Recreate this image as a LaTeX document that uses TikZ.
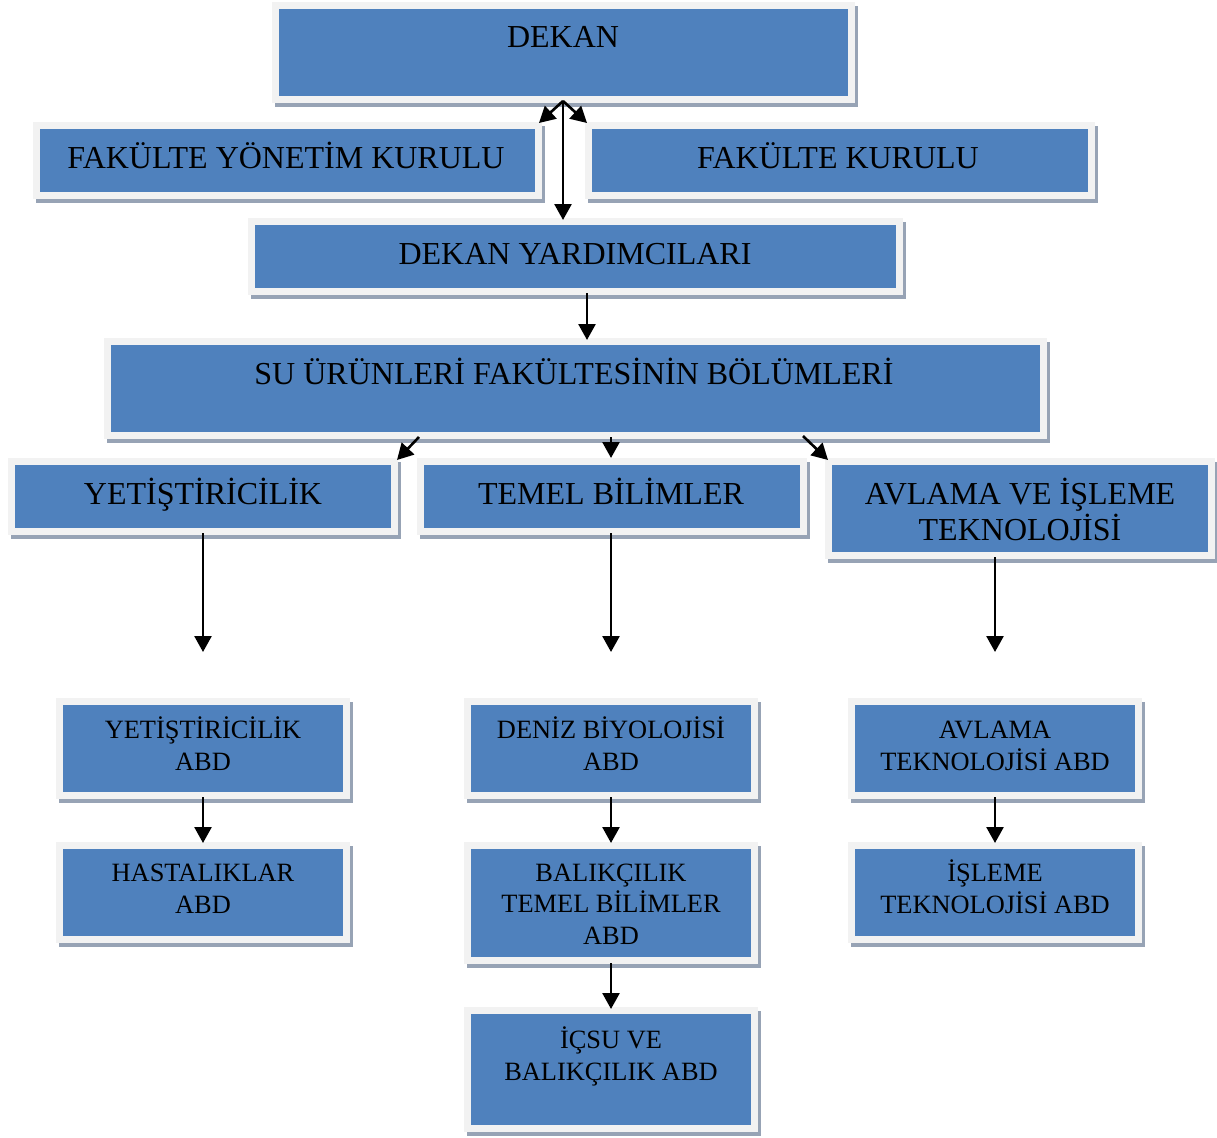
\documentclass[tikz,border=0pt]{standalone}
\usepackage{fontspec}
\setmainfont{Liberation Serif}
\usetikzlibrary{arrows.meta,calc}
\definecolor{boxblue}{HTML}{4F81BD}
\definecolor{framegray}{HTML}{F2F2F2}
\definecolor{shadowgray}{HTML}{97A3B5}
\tikzset{
  bluebox/.style={fill=boxblue, inner sep=0pt, outer sep=0pt},
  bigtxt/.style={font=\fontsize{32}{36}\selectfont, align=center, inner sep=0pt, anchor=base},
  smalltxt/.style={font=\fontsize{26.4}{31.5}\selectfont, align=center, inner sep=0pt, anchor=base},
  conn/.style={line width=2.6pt, -{Triangle[width=17pt,length=16pt]}},
}
\newcommand\orgbox[5]{%
  \fill[shadowgray] ({#2-4},{#3-3}) rectangle ({#4+10},{#5+11});
  \fill[framegray] ({#2-7},{#3-7}) rectangle ({#4+7},{#5+7});
  \node[bluebox, minimum width={(#4-#2)*1pt}, minimum height={(#5-#3)*1pt}] (#1) at ({(#2+#4)/2},{(#3+#5)/2}) {};
}
\begin{document}
\begin{tikzpicture}[x=1pt,y=-1pt]
\useasboundingbox[fill=white] (0,0) rectangle (1217,1137);
% boxes
\orgbox{dekan}{279}{9}{848}{96}
\orgbox{fyk}{40}{129}{535}{192}
\orgbox{fk}{592}{129}{1088}{192}
\orgbox{dy}{255}{225}{896}{288}
\orgbox{su}{111}{345}{1040}{432}
\orgbox{yet}{15}{465}{391}{528}
\orgbox{tb}{424}{465}{800}{528}
\orgbox{av}{832}{465}{1208}{552}
\orgbox{yabd}{63}{705}{343}{792}
\orgbox{hast}{63}{849}{343}{936}
\orgbox{deniz}{471}{705}{751}{792}
\orgbox{balik}{471}{849}{751}{957}
\orgbox{icsu}{471}{1014}{751}{1125}
\orgbox{avt}{855}{705}{1135}{792}
\orgbox{isl}{855}{849}{1135}{936}
% labels (anchor base = baseline of last line)
\node[bigtxt] (tdekan) at (563,48) {DEKAN};
\node[bigtxt] (tfyk) at (286,168) {FAKÜLTE YÖNETİM KURULU};
\node[bigtxt] (tfk) at (838,168) {FAKÜLTE KURULU};
\node[bigtxt] (tdy) at (575,264) {DEKAN YARDIMCILARI};
\node[bigtxt] (tsu) at (574,384) {SU ÜRÜNLERİ FAKÜLTESİNİN BÖLÜMLERİ};
\node[bigtxt] (tyet) at (203,504) {YETİŞTİRİCİLİK};
\node[bigtxt] (ttb) at (611,504) {TEMEL BİLİMLER};
\node[bigtxt] (tav) at (1020,540) {AVLAMA VE İŞLEME\\TEKNOLOJİSİ};
\node[smalltxt] (tyabd) at (203,770) {YETİŞTİRİCİLİK\\ABD};
\node[smalltxt] (thast) at (203,913) {HASTALIKLAR\\ABD};
\node[smalltxt] (tdeniz) at (611,770) {DENİZ BİYOLOJİSİ\\ABD};
\node[smalltxt] (tbalik) at (611,944) {BALIKÇILIK\\TEMEL BİLİMLER\\ABD};
\node[smalltxt] (ticsu) at (611,1080) {İÇSU VE\\BALIKÇILIK ABD};
\node[smalltxt] (tavt) at (995,770) {AVLAMA\\TEKNOLOJİSİ ABD};
\node[smalltxt] (tisl) at (995,913) {İŞLEME\\TEKNOLOJİSİ ABD};
% connectors
\coordinate (dk) at ($(dekan.south)+(-0.5,5)$);
\draw[conn] (dk) -- ($(fyk.north east)+(4,-6)$);
\draw[conn] (dk) -- ($(fk.north west)+(-5,-6)$);
\draw[conn] (dk) -- ($(dy.north)+(-12.5,-5)$);
\draw[conn] ($(dy.south)+(11.5,5)$) -- ($(su.north)+(11.5,-5)$);
\draw[conn] ($(su.south)+(-156.5,5)$) -- ($(yet.north east)+(6,-5)$);
\draw[conn] ($(su.south)+(35.5,5)$) -- ($(tb.north)+(-1,-7)$);
\draw[conn] ($(su.south)+(227.5,4)$) -- ($(av.north west)+(-4,-5)$);
\coordinate (yetend) at ($(yabd.north)+(0,-53)$);
\coordinate (tbend) at ($(deniz.north)+(0,-53)$);
\coordinate (avend) at ($(avt.north)+(0,-53)$);
\draw[conn] ($(yet.south)+(0,5)$) -- (yetend);
\draw[conn] ($(tb.south)+(-1,5)$) -- (tbend);
\draw[conn] ($(av.south)+(-25,5)$) -- (avend);
\draw[conn] ($(yabd.south)+(0,5)$) -- ($(hast.north)+(0,-6)$);
\draw[conn] ($(deniz.south)+(0,5)$) -- ($(balik.north)+(0,-6)$);
\draw[conn] ($(balik.south)+(0,6)$) -- ($(icsu.north)+(0,-5)$);
\draw[conn] ($(avt.south)+(0,5)$) -- ($(isl.north)+(0,-6)$);
\end{tikzpicture}
\end{document}
